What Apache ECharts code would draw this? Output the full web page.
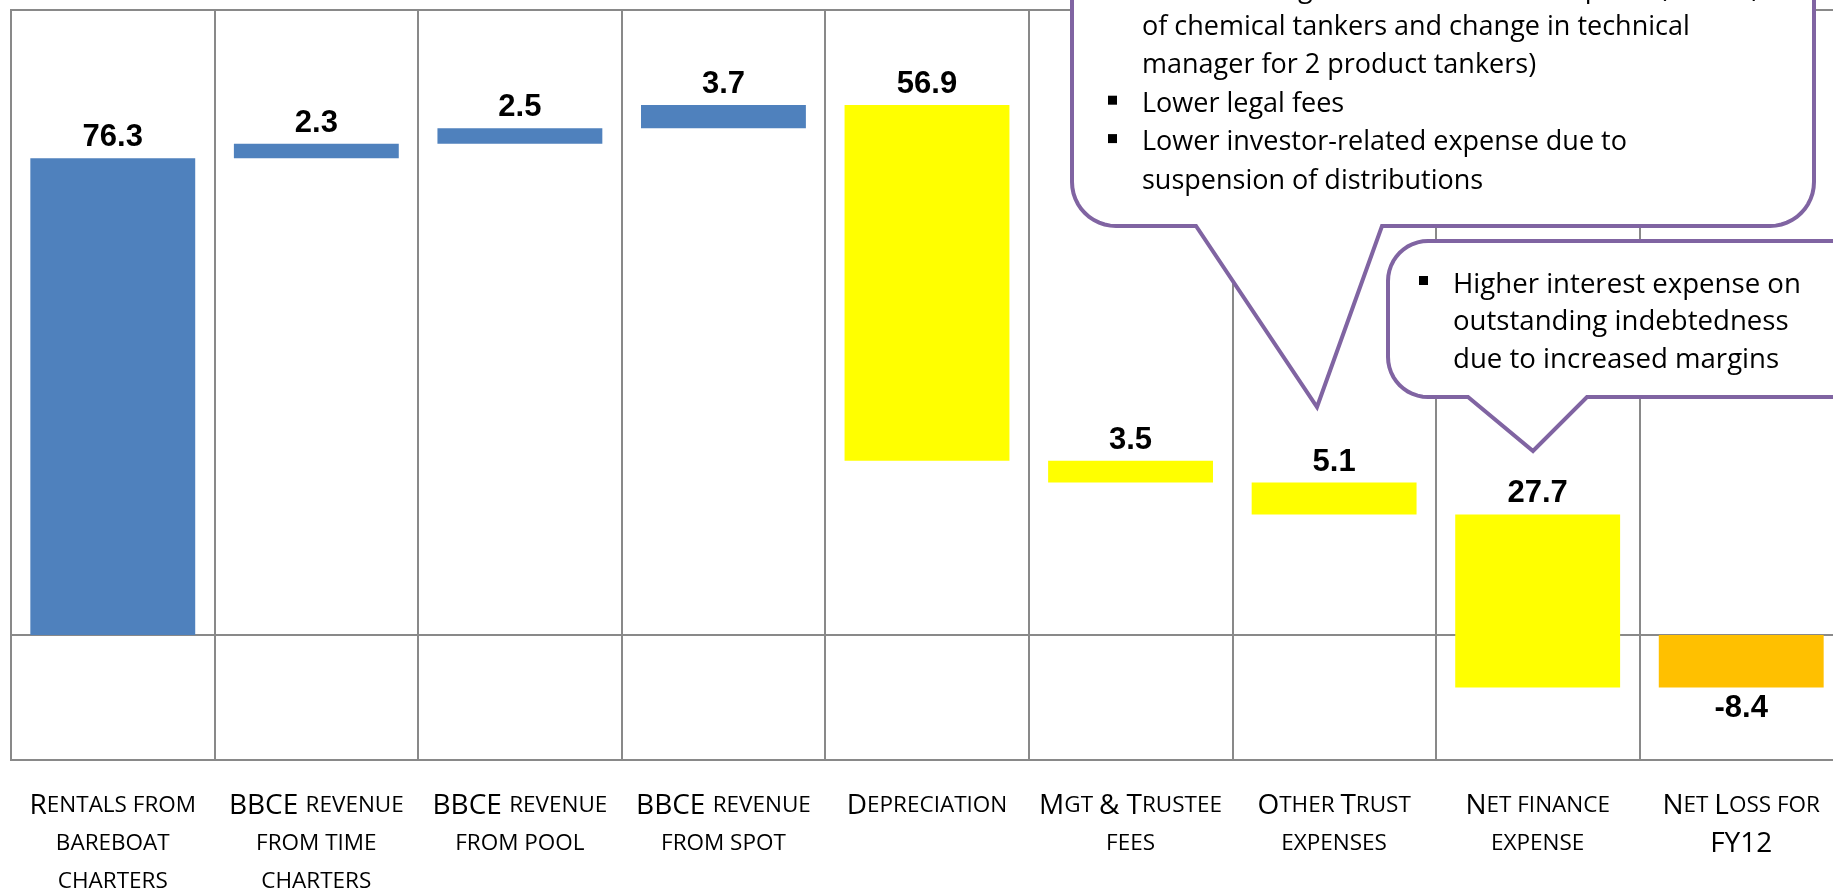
<!DOCTYPE html>
<html><head><meta charset="utf-8">
<script src="https://cdn.jsdelivr.net/npm/echarts@6/dist/echarts.min.js"></script>
<style>html,body{margin:0;padding:0;background:#fff;overflow:hidden}#c{width:1833px;height:892px}</style>
</head><body><div id="c"></div>
<script>
// ---- data ----
const categories = ['Rentals from\nbareboat\ncharters', 'BBCE revenue\nfrom time\ncharters', 'BBCE revenue\nfrom pool', 'BBCE revenue\nfrom spot', 'Depreciation', 'Mgt & Trustee\nfees', 'Other Trust\nexpenses', 'Net finance\nexpense', 'Net Loss for\nFY12'];
const changes = [76.3, 2.3, 2.5, 3.7, -56.9, -3.5, -5.1, -27.7, -8.4];
const kinds = ['revenue', 'revenue', 'revenue', 'revenue', 'expense', 'expense', 'expense', 'expense', 'total'];
const kindColors = { revenue: '#4F81BD', expense: '#FFFF00', total: '#FFC000' };
const yMin = -20, yMax = 100, yInterval = 20;

const calloutTrustLines = ['Lower management fees due to disposal (or sale)', 'of chemical tankers and change in technical', 'manager for 2 product tankers)', 'Lower legal fees', 'Lower investor-related expense due to', 'suspension of distributions'];
const calloutTrustBullets = [true, false, false, true, true, false];
const calloutFinanceLines = ['Higher interest expense on', 'outstanding indebtedness', 'due to increased margins'];
const calloutFinanceBullets = [true, false, false];

// ---- waterfall geometry from the values ----
const baseVals = [], barVals = [];
let running = 0;
changes.forEach((v, i) => {
  if (kinds[i] === 'total') { baseVals.push(0); barVals.push(v); }
  else {
    const s = running, e = +(running + v).toFixed(1);
    baseVals.push(Math.min(s, e)); barVals.push(Math.abs(v)); running = e;
  }
});

function smallCaps(text) {
  return text.split('\n').map(line => {
    let out = '', cur = '', st = null;
    for (const ch of line) {
      let s;
      if (ch === ' ') s = st || 's';
      else if (ch >= 'a' && ch <= 'z') s = 's';
      else s = 'b';
      if (s !== st && cur) { out += '{' + st + '|' + cur + '}'; cur = ''; }
      st = s; cur += ch.toUpperCase();
    }
    if (cur) out += '{' + st + '|' + cur + '}';
    return out;
  }).join('\n');
}

const chart = echarts.init(document.getElementById('c'), null, { renderer: 'canvas' });

const purple = '#8064A2';
function bubblePoints(x1, y1, x2, y2, r, p1, tip, p2) {
  const pts = [];
  const arc = (cx, cy, a0, a1) => { for (let k = 0; k <= 12; k++) { const a = a0 + (a1 - a0) * k / 12; pts.push([cx + r * Math.cos(a), cy + r * Math.sin(a)]); } };
  arc(x1 + r, y1 + r, Math.PI, 1.5 * Math.PI);
  arc(x2 - r, y1 + r, 1.5 * Math.PI, 2 * Math.PI);
  arc(x2 - r, y2 - r, 0, 0.5 * Math.PI);
  pts.push([p2, y2], tip, [p1, y2]);
  arc(x1 + r, y2 - r, 0.5 * Math.PI, Math.PI);
  return pts;
}
function calloutGraphics(box, lines, bullets, textX, bulletX, firstBaseline, lineGap, fs) {
  const g = [{ type: 'polygon', z: 100, shape: { points: bubblePoints(box.x1, box.y1, box.x2, box.y2, box.r, box.p1, box.tip, box.p2) }, style: { fill: '#fff', stroke: purple, lineWidth: 4 } }];
  lines.forEach((t, i) => {
    const base = firstBaseline + i * lineGap;
    g.push({ type: 'text', z: 101, x: textX, y: base - 21, style: { text: t, fontSize: fs, fontFamily: 'Open Sans', fill: '#000', verticalAlign: 'top', align: 'left' } });
    if (bullets[i]) g.push({ type: 'rect', z: 101, shape: { x: bulletX, y: base - 16, width: 9, height: 9 }, style: { fill: '#000' } });
  });
  return g;
}

const graphics = [].concat(
  calloutGraphics({ x1: 1072, y1: -90, x2: 1814, y2: 226, r: 44, p1: 1196, tip: [1317, 407], p2: 1382 },
    calloutTrustLines, calloutTrustBullets, 1142, 1108, -3.5, 38.4, 27),
  calloutGraphics({ x1: 1388, y1: 241, x2: 1900, y2: 397, r: 40, p1: 1468, tip: [1533, 451], p2: 1587 },
    calloutFinanceLines, calloutFinanceBullets, 1453, 1419, 292, 37.5, 27.6)
);

const gray = '#898989';
chart.setOption({
  animation: false,
  backgroundColor: '#fff',
  grid: { left: 11, top: 10, right: -10, bottom: 132, show: true, borderColor: gray, borderWidth: 2, containLabel: false, outerBoundsMode: 'none' },
  xAxis: [{
    type: 'category', data: categories, position: 'bottom',
    axisLine: { show: false, onZero: false }, axisTick: { show: false },
    splitLine: { show: true, interval: 0, lineStyle: { color: gray, width: 2 } },
    axisLabel: {
      interval: 0, margin: 27, color: '#000',
      formatter: v => smallCaps(v),
      rich: {
        b: { fontSize: 28, fontFamily: 'Open Sans', color: '#000', lineHeight: 38 },
        s: { fontSize: 22.5, fontFamily: 'Open Sans', color: '#000', lineHeight: 38 }
      }
    }
  }, {
    type: 'category', data: categories, position: 'top',
    axisLine: { show: true, onZero: true, lineStyle: { color: gray, width: 2 } },
    axisTick: { show: false }, axisLabel: { show: false }, splitLine: { show: false }
  }],
  yAxis: {
    type: 'value', min: yMin, max: yMax, interval: yInterval,
    axisLine: { show: false }, axisTick: { show: false }, axisLabel: { show: false }, splitLine: { show: false }
  },
  series: [{
    type: 'bar', stack: 'wf', stackStrategy: 'all', barCategoryGap: '19%', silent: true,
    itemStyle: { color: 'rgba(0,0,0,0)' }, data: baseVals
  }, {
    type: 'bar', stack: 'wf', stackStrategy: 'all', barCategoryGap: '19%',
    data: barVals.map((v, i) => ({
      value: v,
      itemStyle: { color: kindColors[kinds[i]] },
      label: { position: kinds[i] === 'total' ? 'bottom' : 'top' }
    })),
    label: {
      show: true, distance: 5, color: '#000', fontFamily: 'Liberation Sans', fontWeight: 'bold', fontSize: 31,
      formatter: p => (kinds[p.dataIndex] === 'total' ? changes[p.dataIndex] : Math.abs(changes[p.dataIndex])).toFixed(1)
    }
  }],
  graphic: graphics
});
</script></body></html>
